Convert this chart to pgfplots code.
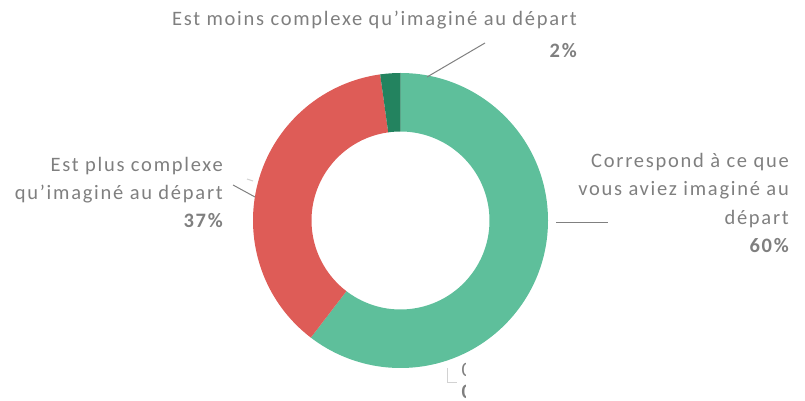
\documentclass[border=0pt]{standalone}
\usepackage{pgfplots}
\usepackage{pgfplotstable}
\pgfplotsset{compat=1.18}
\usepackage{fontspec}
\setmainfont[LetterSpace=8.5]{Carlito}
\definecolor{cGreen}{RGB}{94,191,155}
\definecolor{cRed}{RGB}{222,92,87}
\definecolor{cDark}{RGB}{35,131,95}
\definecolor{cText}{RGB}{127,127,127}
\definecolor{cLine}{RGB}{128,128,128}
\definecolor{cFaint}{RGB}{210,210,210}

\pgfplotstableread{
label value
Correspond 60.4
Plus 37.4
Moins 2.2
}\donutdata

\pgfplotstablegetelem{0}{value}\of\donutdata \let\vA\pgfplotsretval
\pgfplotstablegetelem{1}{value}\of\donutdata \let\vB\pgfplotsretval
\pgfplotstablegetelem{2}{value}\of\donutdata \let\vC\pgfplotsretval
\pgfmathsetmacro\aS{90}
\pgfmathsetmacro\aA{\aS-3.6*\vA}
\pgfmathsetmacro\aB{\aA-3.6*\vB}
\pgfmathsetmacro\aC{\aB-3.6*\vC}
\def\cx{400.5}
\def\cy{180.5}
\def\Ro{147.5}
\def\Ri{89}

\newcommand\slice[3]{%
  \fill[#3] ([shift={(#1:\Ro pt)}]axis cs:\cx,\cy)
    arc[start angle=#1, end angle=#2, radius=\Ro pt]
    -- ([shift={(#2:\Ri pt)}]axis cs:\cx,\cy)
    arc[start angle=#2, end angle=#1, radius=\Ri pt] -- cycle;}

\begin{document}
\begin{tikzpicture}
\begin{axis}[
  x=1pt, y=1pt, xmin=0, xmax=805, ymin=0, ymax=401,
  hide axis, scale only axis, clip=false,
]
\path (axis cs:0,0) rectangle (axis cs:805,401);
\slice{\aS}{\aA}{cGreen}
\slice{\aA}{\aB}{cRed}
\slice{\aB}{\aC}{cDark}

% leader lines
\draw[cLine, line width=1pt] (axis cs:427,324) -- (axis cs:485,358);
\draw[cLine, line width=1pt] (axis cs:255,204) -- (axis cs:233,216);
\draw[cFaint, line width=1pt] (axis cs:247,222) -- (axis cs:253,220);
\draw[cLine, line width=1pt] (axis cs:556,178) -- (axis cs:608,178);
\draw[cFaint, line width=1pt] (axis cs:447,33) -- (axis cs:447,18) -- (axis cs:457,18);

\begin{scope}[font=\fontsize{20.5}{28}\selectfont, text=cText]
\node[anchor=base east, inner sep=0pt] at (axis cs:577,375) {Est moins complexe qu’imaginé au départ};
\node[anchor=base east, inner sep=0pt] at (axis cs:577,343) {\bfseries 2\%};
\node[anchor=base east, inner sep=0pt] at (axis cs:223,229) {Est plus complexe};
\node[anchor=base east, inner sep=0pt] at (axis cs:223,201) {qu’imaginé au départ};
\node[anchor=base east, inner sep=0pt] at (axis cs:223,173) {\bfseries 37\%};
\node[anchor=base east, inner sep=0pt] at (axis cs:789,233) {Correspond à ce que};
\node[anchor=base east, inner sep=0pt] at (axis cs:789,205) {vous aviez imaginé au};
\node[anchor=base east, inner sep=0pt] at (axis cs:789,176) {départ};
\node[anchor=base east, inner sep=0pt] at (axis cs:789,148) {\bfseries 60\%};
\end{scope}
\begin{scope}
\clip (axis cs:455,0) rectangle (axis cs:465,40);
\node[anchor=base west, inner sep=0pt, text=cText, font=\fontsize{20.5}{28}\selectfont] at (axis cs:461.5,24) {0};
\node[anchor=base west, inner sep=0pt, text=cText, font=\fontsize{20.5}{28}\selectfont\bfseries] at (axis cs:461.5,2) {0};
\end{scope}
\end{axis}
\end{tikzpicture}
\end{document}
